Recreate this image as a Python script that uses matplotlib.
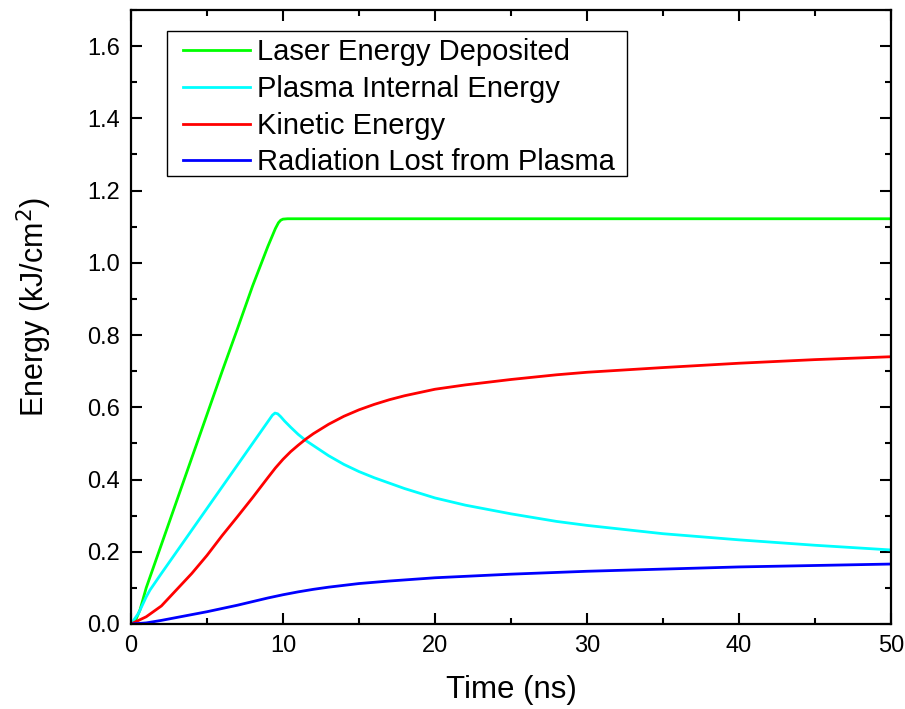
import matplotlib
matplotlib.use("Agg")
import matplotlib.pyplot as plt
from matplotlib.patches import Rectangle
from matplotlib.ticker import MultipleLocator

plt.rcParams["font.family"] = ["Liberation Sans", "DejaVu Sans"]

# Values
t_laser = [0, 0.3, 0.6, 1, 2, 3, 4, 5, 6, 7, 8, 9, 9.3, 9.5, 9.7, 9.85, 10, 10.3,
           20, 30, 40, 50]
e_laser = [0, 0.01, 0.04, 0.10, 0.22, 0.34, 0.46, 0.58, 0.70, 0.817, 0.936, 1.045,
           1.075, 1.095, 1.111, 1.118, 1.121, 1.122, 1.122, 1.122, 1.122, 1.122]

t_internal = [0, 0.5, 1, 1.25, 2, 3, 4, 5, 6, 7, 8, 8.8, 9.1, 9.3, 9.47, 9.65, 9.85,
              10.1, 10.5, 11, 11.5, 12, 13, 14, 15, 16, 18, 20, 22, 25, 28, 30, 35,
              40, 45, 50]
e_internal = [0, 0.03, 0.075, 0.094, 0.14, 0.20, 0.26, 0.32, 0.38, 0.44, 0.50, 0.548,
              0.566, 0.578, 0.584, 0.582, 0.574, 0.562, 0.545, 0.525, 0.508, 0.494,
              0.466, 0.442, 0.422, 0.405, 0.375, 0.349, 0.329, 0.305, 0.284, 0.273,
              0.25, 0.233, 0.218, 0.205]

t_kinetic = [0, 1, 2, 3, 4, 5, 6, 7, 8, 9, 9.5, 10, 10.5, 11, 11.5, 12, 13, 14, 15,
             16, 17, 18, 20, 22, 25, 28, 30, 35, 40, 45, 50]
e_kinetic = [0, 0.02, 0.05, 0.095, 0.14, 0.19, 0.245, 0.297, 0.35, 0.405, 0.432,
             0.456, 0.477, 0.495, 0.512, 0.527, 0.553, 0.575, 0.593, 0.608, 0.621,
             0.632, 0.65, 0.662, 0.677, 0.69, 0.697, 0.71, 0.722, 0.732, 0.74]

t_rad = [0, 1, 2, 3, 4, 5, 6, 7, 8, 9, 10, 11, 12, 13, 15, 17, 20, 25, 30, 35, 40,
         45, 50]
e_rad = [0, 0.003, 0.01, 0.018, 0.026, 0.034, 0.043, 0.052, 0.062, 0.072, 0.081,
         0.089, 0.096, 0.102, 0.112, 0.119, 0.128, 0.138, 0.146, 0.152, 0.158,
         0.162, 0.166]

fig = plt.figure(figsize=(9.05, 7.09), dpi=100)
ax = fig.add_axes([131 / 905, 1 - 624 / 709, 760 / 905, 614 / 709])

lw = 2.0
ax.plot(t_laser, e_laser, color="#00ff00", lw=lw, label="Laser Energy Deposited")
ax.plot(t_internal, e_internal, color="#00ffff", lw=lw, label="Plasma Internal Energy")
ax.plot(t_kinetic, e_kinetic, color="#ff0000", lw=lw, label="Kinetic Energy")
ax.plot(t_rad, e_rad, color="#0000ff", lw=lw, label="Radiation Lost from Plasma")

ax.set_xlim(0, 50)
ax.set_ylim(0, 1.7)
ax.xaxis.set_major_locator(MultipleLocator(10))
ax.xaxis.set_minor_locator(MultipleLocator(5))
ax.yaxis.set_major_locator(MultipleLocator(0.2))
ax.yaxis.set_minor_locator(MultipleLocator(0.1))
ax.yaxis.set_major_formatter(plt.FuncFormatter(lambda v, p: f"{v:.1f}"))

ax.tick_params(which="both", direction="in", top=True, right=True, width=1.5,
               labelsize=17, pad=8)
ax.tick_params(which="major", length=8)
ax.tick_params(which="minor", length=4.5)
for s in ax.spines.values():
    s.set_linewidth(1.6)

ax.set_xlabel("Time (ns)", fontsize=22.5, labelpad=13)
ax.set_ylabel("Energy (kJ/cm$^2$)", fontsize=22, labelpad=24)
ax.yaxis.label.set_y(0.516)

# legend box is wider-padded than the rows, so draw the frame separately
leg = ax.legend(loc="upper left", bbox_to_anchor=(0.0684, 0.954), borderaxespad=0,
                fontsize=21, handlelength=2.3, handletextpad=0.25,
                labelspacing=0.30, borderpad=0, frameon=False)
ax.add_patch(Rectangle((0.047, 0.7296), 0.605, 0.236, transform=ax.transAxes,
                       fill=False, edgecolor="black", lw=1.0, zorder=5))

fig.savefig("out.png", dpi=100)
